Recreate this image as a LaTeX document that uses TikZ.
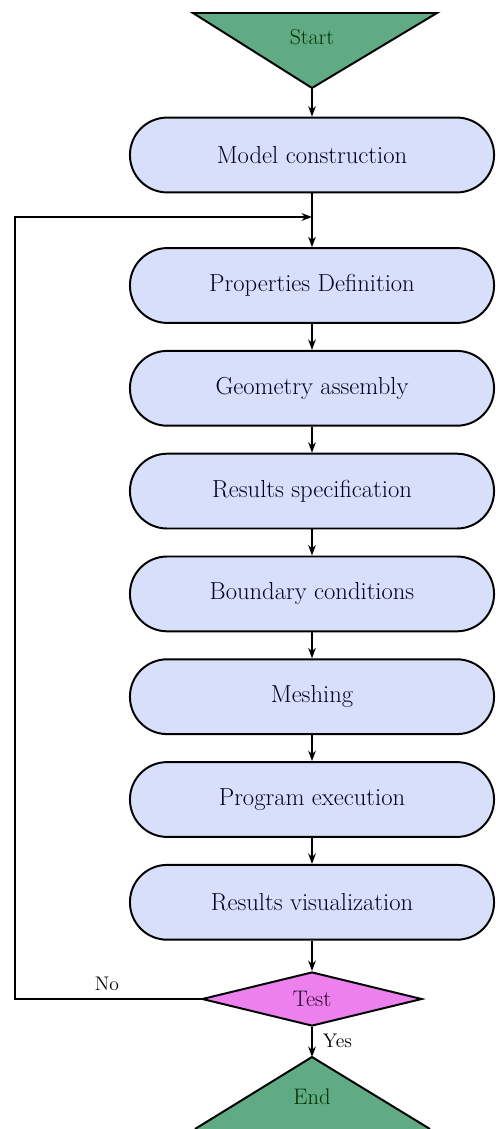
\documentclass[tikz,border=0pt]{standalone}
\usetikzlibrary{positioning,arrows.meta,shapes.geometric}
\definecolor{termgreen}{RGB}{96,170,132}
\definecolor{fasefill}{RGB}{216,223,250}
\definecolor{testfill}{RGB}{236,128,236}
\tikzset{
  fase/.style = {rectangle, draw, line width=1.4pt, fill=fasefill, rounded corners=0.93cm,
                 minimum width=9.1cm, minimum height=1.87cm, inner sep=0, text=black!85!blue,
                 font=\fontsize{17.5}{20}\selectfont},
  term/.style = {draw, line width=1.4pt, fill=termgreen},
  test/.style = {diamond, draw, line width=1.4pt, fill=testfill, aspect=4.07, inner sep=0,
                 minimum width=5.5cm, minimum height=1.35cm, text=black!70!violet,
                 font=\fontsize{16}{18}\selectfont},
  link/.style = {line width=1.2pt, -{Stealth[length=2.6mm,width=1.9mm]}},
  et/.style   = {font=\fontsize{14}{16}\selectfont}
}
\begin{document}
\begin{tikzpicture}[x=0.025cm,y=-0.025cm]
  \useasboundingbox (0,0) rectangle (495,1129);
  % start / end triangles
  \coordinate (sA) at (193,13); \coordinate (sB) at (437,13); \coordinate (sTip) at (312,88);
  \draw[term] (sA) -- (sB) -- (sTip) -- cycle;
  \node[font=\fontsize{15.5}{18}\selectfont, text=black!80!green] (start) at (312,37) {Start};
  \coordinate (eA) at (195,1129); \coordinate (eB) at (430,1129); \coordinate (eTip) at (312,1057);
  \draw[term] (eA) -- (eTip) -- (eB);
  \node[font=\fontsize{16}{18}\selectfont, text=black!80!green] (end) at (312,1097) {End};

  % steps
  \node[fase] (mod)  at (312,155.0) {Model construction};
  \node[fase] (prop) at (312,285.5) {Properties Definition};
  \node[fase] (geo)  at (312,388.3) {Geometry assembly};
  \node[fase] (res)  at (312,491.1) {Results specification};
  \node[fase] (bc)   at (312,593.9) {Boundary conditions};
  \node[fase] (mesh) at (312,696.7) {Meshing};
  \node[fase] (exe)  at (312,799.5) {Program execution};
  \node[fase] (vis)  at (312,902.3) {Results visualization};
  \node[test] (tst)  at (312,999)   {Test};

  % connectors
  \draw[link] (sTip) -- (mod);
  \draw[link] (mod) -- (prop);
  \draw[link] (prop) -- (geo);
  \draw[link] (geo) -- (res);
  \draw[link] (res) -- (bc);
  \draw[link] (bc) -- (mesh);
  \draw[link] (mesh) -- (exe);
  \draw[link] (exe) -- (vis);
  \draw[link] (vis) -- (tst);
  \draw[link] (tst) -- (eTip);
  \coordinate (J) at (312,217); \coordinate (back) at (15,217);
  \draw[link] (tst.west) -| (back) -- (J);
  \node[et] (no)  at (107,984) {No};
  \node[et,right] (yes) at (318,1041) {Yes};
\end{tikzpicture}
\end{document}
